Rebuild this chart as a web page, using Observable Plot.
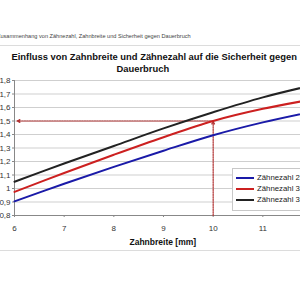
<!DOCTYPE html>
<html><head><meta charset="utf-8">
<script src="https://cdn.jsdelivr.net/npm/d3@7"></script>
<script src="https://cdn.jsdelivr.net/npm/@observablehq/plot@0.6"></script>
<style>
html,body{margin:0;padding:0;overflow:hidden;background:#fff;width:300px;height:300px;}
#wrap{position:relative;width:300px;height:300px;overflow:hidden;font-family:"Liberation Sans",Arial,sans-serif;}
#wrap svg{position:absolute;left:0;top:0;max-width:none !important;}
.abs{position:absolute;white-space:nowrap;}
.hr{position:absolute;left:0;width:300px;height:1px;background:#dcdcdc;}
#legend{position:absolute;left:232px;top:168px;width:90px;height:41px;border:1px solid #c8c8c8;background:#fff;font-size:7.8px;color:#222;white-space:nowrap;}
.li{position:absolute;left:3px;height:10px;width:90px;}
.li span.sw{position:absolute;left:0;top:4px;width:18px;height:2px;}
.li span.tx{position:absolute;left:21px;top:0px;white-space:nowrap;}
</style></head>
<body><div id="wrap"></div>
<script>
const xVals = [6, 7, 8, 9, 10, 11, 12];
const series = ["Zähnezahl 28", "Zähnezahl 32", "Zähnezahl 36"];
const seriesColors = ["#1a1aa8", "#cc2020", "#222222"];
const values28 = [0.905, 1.035, 1.16, 1.28, 1.395, 1.49, 1.57];
const values32 = [0.975, 1.115, 1.25, 1.38, 1.50, 1.59, 1.66];
const values36 = [1.05, 1.185, 1.315, 1.445, 1.565, 1.675, 1.765];
const yTicks = [0.8, 0.9, 1, 1.1, 1.2, 1.3, 1.4, 1.5, 1.6, 1.7, 1.8];
const xTicks = [6, 7, 8, 9, 10, 11];
const arrowX1 = [10, 10], arrowY1 = [0.8, 1.5], arrowX2 = [10, 6.05], arrowY2 = [1.5, 1.5];
const captionText = "Zusammenhang von Zähnezahl, Zahnbreite und Sicherheit gegen Dauerbruch";
const titleLine1 = "Einfluss von Zahnbreite und Zähnezahl auf die Sicherheit gegen";
const titleLine2 = "Dauerbruch";
const xLabel = "Zahnbreite [mm]";

const allVals = [values28, values32, values36];
const data = [];
series.forEach((s, i) => xVals.forEach((x, j) => data.push({x, y: allVals[i][j], s})));
const arrows = arrowX1.map((d, i) => ({x1: d, y1: arrowY1[i], x2: arrowX2[i], y2: arrowY2[i]}));

const plot = Plot.plot({
  width: 312, height: 300,
  marginLeft: 14, marginRight: 0, marginTop: 80, marginBottom: 85,
  style: {fontFamily: "Liberation Sans, Arial, sans-serif", background: "transparent", overflow: "visible", maxWidth: "none"},
  x: {domain: [6, 12]},
  y: {domain: [0.8, 1.8]},
  color: {domain: series, range: seriesColors},
  marks: [
    Plot.ruleY(yTicks, {stroke: "#cfcfcf", strokeWidth: 1}),
    Plot.axisY({ticks: yTicks, tickFormat: d => String(d).replace(".", ","), tickSize: 2, tickPadding: 2, fontSize: 8, label: null, color: "#333", stroke: "#888"}),
    Plot.axisX({ticks: xTicks, tickFormat: d => String(d), tickSize: 2, tickPadding: 8, fontSize: 8, label: null, color: "#333", stroke: "#888"}),
    Plot.ruleX([6], {stroke: "#888"}),
    Plot.ruleY([0.8], {stroke: "#888"}),
    Plot.arrow(arrows, {x1: "x1", y1: "y1", x2: "x2", y2: "y2", stroke: "#b03030", strokeWidth: 1.2, strokeDasharray: "1.5,1", headLength: 4, headAngle: 50, bend: 0}),
    Plot.line(data, {x: "x", y: "y", z: "s", stroke: "s", strokeWidth: 2, curve: "catmull-rom"})
  ]
});
const wrap = document.getElementById("wrap");
wrap.appendChild(plot);

function addText(txt, left, top, css) {
  const d = document.createElement("div");
  d.className = "abs"; d.textContent = txt;
  d.style.left = left + "px"; d.style.top = top + "px";
  Object.assign(d.style, css || {});
  wrap.appendChild(d);
  return d;
}
addText(captionText, -3, 33, {fontSize: "5.6px", color: "#444"});
const hr1 = document.createElement("div"); hr1.className = "hr"; hr1.style.top = "45px"; wrap.appendChild(hr1);
const hr2 = document.createElement("div"); hr2.className = "hr"; hr2.style.top = "250px"; wrap.appendChild(hr2);
const t1 = addText(titleLine1, 0, 51, {fontSize: "9.4px", fontWeight: "bold", color: "#111"});
t1.style.left = (154 - t1.offsetWidth / 2) + "px";
const t2 = addText(titleLine2, 0, 63, {fontSize: "9.4px", fontWeight: "bold", color: "#111"});
t2.style.left = (143 - t2.offsetWidth / 2) + "px";
const xl = addText(xLabel, 0, 237, {fontSize: "8.5px", fontWeight: "bold", color: "#111"});
xl.style.left = (163 - xl.offsetWidth / 2) + "px";

const lg = document.createElement("div"); lg.id = "legend"; wrap.appendChild(lg);
series.forEach((s, i) => {
  const it = document.createElement("div"); it.className = "li";
  it.style.top = (4 + i * 11) + "px";
  const sw = document.createElement("span"); sw.className = "sw"; sw.style.background = seriesColors[i];
  const tx = document.createElement("span"); tx.className = "tx"; tx.textContent = s;
  it.appendChild(sw); it.appendChild(tx); lg.appendChild(it);
});
</script></body></html>
